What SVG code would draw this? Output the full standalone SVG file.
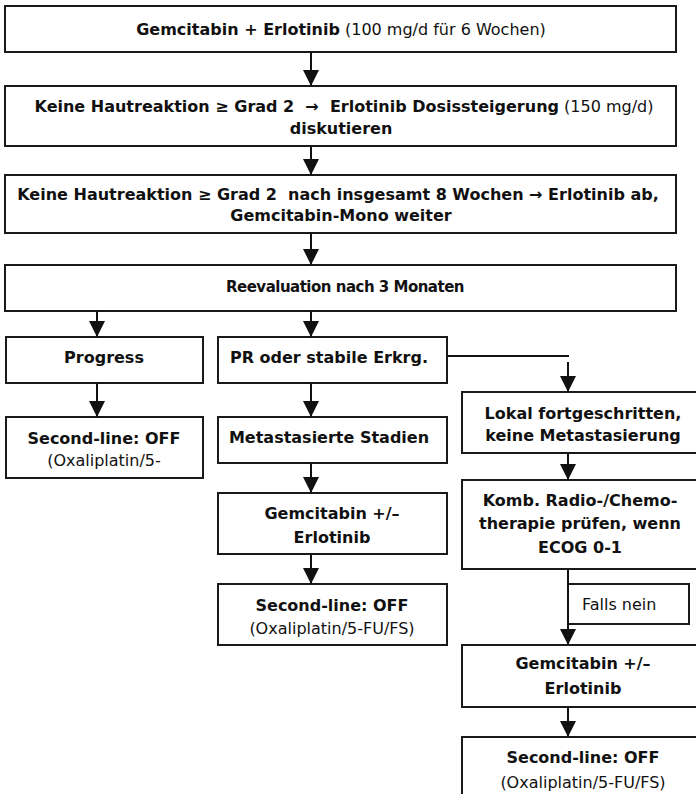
<svg xmlns="http://www.w3.org/2000/svg" width="696" height="794" viewBox="0 0 696 794">
<style>
.box{fill:#fff;stroke:#1a1a1a;stroke-width:2}
.t{font-family:"DejaVu Sans","Liberation Sans",sans-serif;font-size:16px;fill:#111;text-anchor:middle;white-space:pre}
.b{font-weight:bold}
.n{font-weight:normal}
.c{fill:none;stroke:#111;stroke-width:2}
</style>
<defs>
<marker id="ah" markerUnits="userSpaceOnUse" markerWidth="16" markerHeight="16" viewBox="0 0 16 16" refX="16" refY="8" orient="auto">
<path d="M0,0 L16,8 L0,16 Z" fill="#111"/>
</marker>
</defs>
<rect width="696" height="794" fill="#fff"/>
<g id="n1"><rect class="box" x="5" y="6" width="671" height="46"/>
<text class="t" x="341" y="35"><tspan class="b">Gemcitabin + Erlotinib</tspan><tspan class="n"> (100 mg/d für 6 Wochen)</tspan></text></g>
<g id="n2"><rect class="box" x="5" y="86" width="671" height="60"/>
<text class="t b" x="344" y="112">Keine Hautreaktion ≥ Grad 2  →  Erlotinib Dosissteigerung<tspan class="n"> (150 mg/d)</tspan></text>
<text class="t b" x="341" y="134">diskutieren</text></g>
<g id="n3"><rect class="box" x="5" y="175" width="671" height="58"/>
<text class="t b" x="338" y="200">Keine Hautreaktion ≥ Grad 2  nach insgesamt 8 Wochen → Erlotinib ab,</text>
<text class="t b" x="341" y="221">Gemcitabin-Mono weiter</text></g>
<g id="n4"><rect class="box" x="5" y="265" width="671" height="46"/>
<text class="t b" x="345" y="292" style="font-size:15px;letter-spacing:-0.5px">Reevaluation nach 3 Monaten</text></g>
<g id="n5"><rect class="box" x="6" y="337" width="197" height="46"/>
<text class="t b" x="104" y="363">Progress</text></g>
<g id="n6"><rect class="box" x="218" y="337" width="229" height="46"/>
<text class="t b" x="329" y="363">PR oder stabile Erkrg.</text></g>
<g id="n7"><rect class="box" x="6" y="417" width="197" height="61"/>
<text class="t b" x="104" y="444">Second-line: OFF</text>
<text class="t n" x="104" y="466">(Oxaliplatin/5-</text></g>
<g id="n8"><rect class="box" x="218" y="417" width="229" height="46"/>
<text class="t b" x="329" y="443">Metastasierte Stadien</text></g>
<g id="n9"><rect class="box" x="218" y="493" width="229" height="61"/>
<text class="t b" x="332" y="519">Gemcitabin +/–</text>
<text class="t b" x="332" y="543">Erlotinib</text></g>
<g id="n10"><rect class="box" x="218" y="584" width="229" height="61"/>
<text class="t b" x="332" y="611">Second-line: OFF</text>
<text class="t n" x="332" y="634">(Oxaliplatin/5-FU/FS)</text></g>
<g id="n11"><rect class="box" x="462" y="392" width="242" height="61"/>
<text class="t b" x="583" y="419">Lokal fortgeschritten,</text>
<text class="t b" x="583" y="441">keine Metastasierung</text></g>
<g id="n12"><rect class="box" x="462" y="480" width="242" height="89"/>
<text class="t b" x="580" y="506">Komb. Radio-/Chemo-</text>
<text class="t b" x="580" y="529">therapie prüfen, wenn</text>
<text class="t b" x="580" y="553">ECOG 0-1</text></g>
<g id="n13"><rect class="box" x="568" y="584" width="121" height="40"/>
<text class="t n" x="582" y="610" style="text-anchor:start">Falls nein</text></g>
<g id="n14"><rect class="box" x="462" y="645" width="242" height="62"/>
<text class="t b" x="583" y="669">Gemcitabin +/–</text>
<text class="t b" x="583" y="694">Erlotinib</text></g>
<g id="n15"><rect class="box" x="462" y="737" width="242" height="70"/>
<text class="t b" x="583" y="763">Second-line: OFF</text>
<text class="t n" x="583" y="788">(Oxaliplatin/5-FU/FS)</text></g>
<g id="connectors">
<line class="c" x1="311" y1="52" x2="311" y2="86" marker-end="url(#ah)"/>
<line class="c" x1="311" y1="146" x2="311" y2="175" marker-end="url(#ah)"/>
<line class="c" x1="311" y1="233" x2="311" y2="265" marker-end="url(#ah)"/>
<line class="c" x1="97" y1="311" x2="97" y2="337" marker-end="url(#ah)"/>
<line class="c" x1="97" y1="383" x2="97" y2="417" marker-end="url(#ah)"/>
<line class="c" x1="311" y1="311" x2="311" y2="337" marker-end="url(#ah)"/>
<line class="c" x1="311" y1="383" x2="311" y2="417" marker-end="url(#ah)"/>
<line class="c" x1="311" y1="463" x2="311" y2="493" marker-end="url(#ah)"/>
<line class="c" x1="311" y1="554" x2="311" y2="584" marker-end="url(#ah)"/>
<line class="c" x1="447" y1="356" x2="569" y2="356"/>
<line class="c" x1="568" y1="362" x2="568" y2="392" marker-end="url(#ah)"/>
<line class="c" x1="568" y1="453" x2="568" y2="480" marker-end="url(#ah)"/>
<line class="c" x1="568" y1="569" x2="568" y2="645" marker-end="url(#ah)"/>
<line class="c" x1="568" y1="707" x2="568" y2="737" marker-end="url(#ah)"/>
</g>
</svg>
